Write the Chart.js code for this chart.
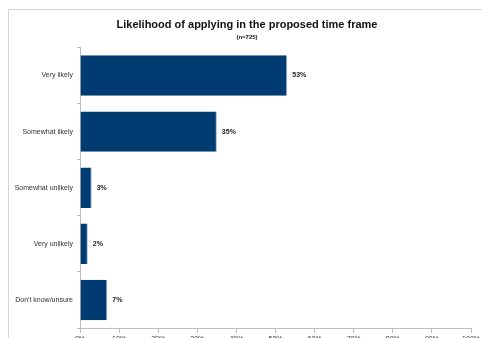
<!DOCTYPE html>
<html>
<head>
<meta charset="utf-8">
<script src="https://cdn.jsdelivr.net/npm/chart.js@4/dist/chart.umd.min.js"></script>
<style>
  html, body { margin: 0; padding: 0; background: #fff; overflow: hidden; width: 482px; height: 338px; }
  #frame { position: absolute; left: 8px; top: 9px; width: 520px; height: 400px; border: 1px solid #d4d4d4; }
  #wrap { position: absolute; left: 0; top: 0; width: 482px; height: 348px; }
</style>
</head>
<body>
<div id="frame"></div>
<div id="wrap"><canvas id="likeChart" width="482" height="348"></canvas></div>
<script>
let cats = ['Very likely', 'Somewhat likely', 'Somewhat unlikely', 'Very unlikely', "Don't know/unsure"];
let pct = [53, 35, 3, 2, 7];
let xTicks = [0, 10, 20, 30, 40, 50, 60, 70, 80, 90, 100];

const fnt = "'Liberation Sans', Arial, sans-serif";

// value labels right of each bar
const barLbl = {
  id: 'barLbl',
  afterDatasetsDraw(chart) {
    const ctx = chart.ctx;
    const meta = chart.getDatasetMeta(0);
    ctx.save();
    ctx.font = 'bold 7px ' + fnt;
    ctx.fillStyle = '#222';
    ctx.textBaseline = 'middle';
    meta.data.forEach((b, i) => {
      ctx.fillText(pct[i] + '%', b.x + 5, b.y);
    });
    ctx.restore();
  }
};

function mkChart({ elementId, labels, data }) {
  const ctx = document.getElementById(elementId).getContext('2d');
  return new Chart(ctx, {
    type: 'bar',
    data: {
      labels: labels,
      datasets: [{
        data: data,
        yAxisID: 'y',
        backgroundColor: '#003b71',
        borderColor: '#9fb6cf',
        borderWidth: { right: 1, top: 0, bottom: 0, left: 0 },
        barPercentage: 0.72,
        categoryPercentage: 1
      }]
    },
    options: {
      indexAxis: 'y',
      responsive: false,
      animation: false,
      layout: { padding: { left: 12, right: 0, top: 0, bottom: 0 } },
      scales: {
        x: {
          min: 0, max: 100,
          afterBuildTicks: (s) => { s.ticks = xTicks.map(v => ({ value: v })); },
          afterFit: (s) => { s.height = 20; },
          grid: { drawOnChartArea: false, color: '#bdbdbd', tickLength: 5 },
          border: { color: '#bdbdbd' },
          ticks: { color: '#333', font: { family: fnt, size: 7 }, padding: 2, callback: (v) => v + '%' }
        },
        y: {
          afterFit: (s) => { s.width = 68; },
          grid: { drawOnChartArea: false, color: '#bdbdbd', tickLength: 3, offset: true },
          border: { color: '#bdbdbd' },
          ticks: { color: '#333', font: { family: fnt, size: 7 }, padding: 4 }
        },
        // empty spacer on the right so the title centres like the original
        yR: {
          type: 'category',
          position: 'right',
          labels: cats,
          afterFit: (s) => { s.width = 9; },
          grid: { display: false },
          border: { display: false },
          ticks: { display: false }
        }
      },
      plugins: {
        legend: { display: false },
        tooltip: { enabled: false },
        title: {
          display: true,
          text: 'Likelihood of applying in the proposed time frame',
          color: '#111',
          font: { family: fnt, size: 11, weight: 'bold', lineHeight: 1.2 },
          padding: { top: 18, bottom: 0 }
        },
        subtitle: {
          display: true,
          text: '(n=725)',
          color: '#111',
          font: { family: fnt, size: 6, weight: 'bold', lineHeight: 1.2 },
          padding: { top: 3, bottom: 6 }
        }
      }
    },
    plugins: [barLbl]
  });
}

let likeChart = mkChart({ elementId: 'likeChart', labels: cats, data: pct });
</script>
</body>
</html>
